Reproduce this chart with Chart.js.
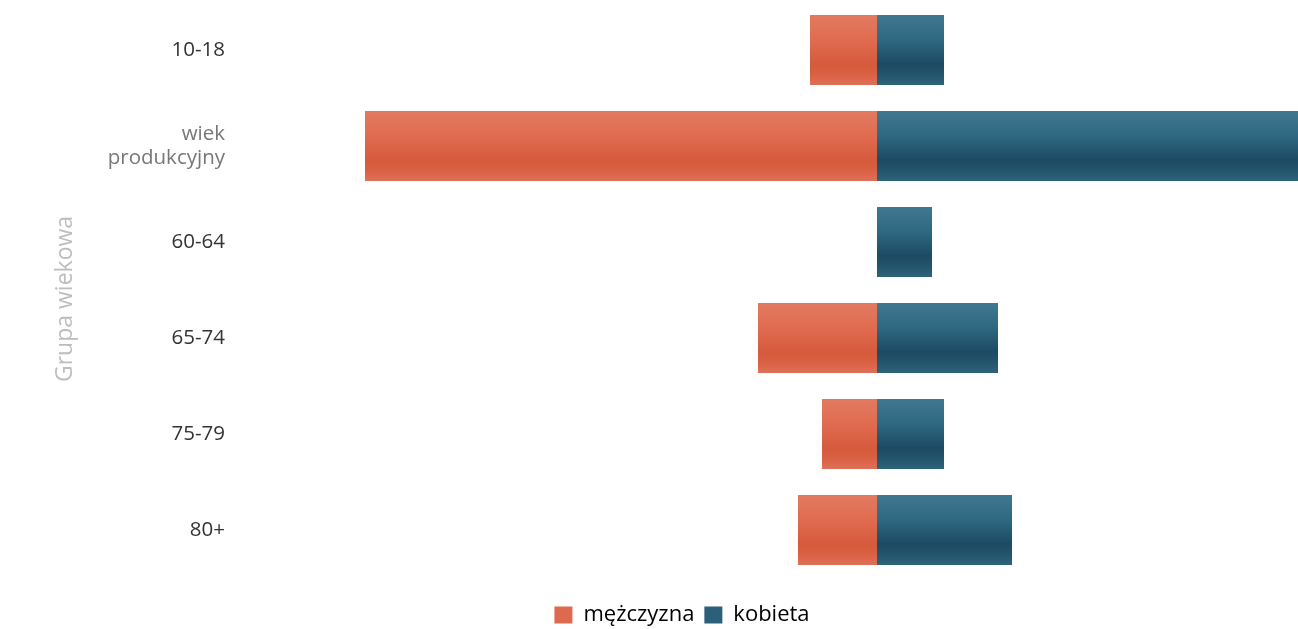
<!DOCTYPE html>
<html>
<head>
<meta charset="utf-8">
<script src="https://cdn.jsdelivr.net/npm/chart.js@4.4.1/dist/chart.umd.min.js"></script>
<style>
html,body{margin:0;padding:0;background:#fff;}
#wrap{width:1298px;height:629px;position:relative;}
</style>
</head>
<body>
<div id="wrap"><canvas id="c"></canvas></div>
<script>
const categories = ['10-18', ['wiek', 'produkcyjny'], '60-64', '65-74', '75-79', '80+'];
const menValues = [-67, -512, 0, -119, -55, -79];
const womenValues = [67, 600, 55, 121, 67, 135];
const seriesNames = ['mężczyzna', 'kobieta'];
const xMin = -637, xMax = 421;

function grad(stops, solid) {
  return function (ctx) {
    const chart = ctx.chart;
    const ys = chart.scales && chart.scales.y;
    if (!ys || !chart.chartArea || ctx.type !== 'data') return solid;
    const yc = ys.getPixelForValue(ctx.dataIndex);
    const h = 35;
    const g = chart.ctx.createLinearGradient(0, yc - h, 0, yc + h);
    stops.forEach(s => g.addColorStop(s[0], s[1]));
    return g;
  };
}
const redStops = [[0, '#E27A60'], [0.35, '#E06C50'], [0.7, '#D65A3C'], [0.85, '#DA6044'], [1, '#E07058']];
const blueStops = [[0, '#40788F'], [0.35, '#2F6882'], [0.7, '#1C4A62'], [0.85, '#24556E'], [1, '#2E627B']];

new Chart(document.getElementById('c'), {
  type: 'bar',
  data: {
    labels: categories,
    datasets: [
      { label: seriesNames[0], data: menValues, backgroundColor: grad(redStops, '#DD6A4E'), borderWidth: 0 },
      { label: seriesNames[1], data: womenValues, backgroundColor: grad(blueStops, '#2B5F7A'), borderWidth: 0 }
    ]
  },
  options: {
    indexAxis: 'y',
    responsive: true,
    maintainAspectRatio: false,
    animation: false,
    layout: { padding: { left: 66, right: 0, top: 2, bottom: -7 } },
    datasets: { bar: { barPercentage: 0.8, categoryPercentage: 0.91 } },
    scales: {
      x: {
        stacked: true, min: xMin, max: xMax,
        grid: { display: false, drawTicks: false },
        border: { display: false },
        ticks: { display: false },
        afterFit: (s) => { s.height = 16; s.paddingLeft = 0; s.paddingRight = 0; }
      },
      y: {
        stacked: true,
        grid: { display: false, drawTicks: false },
        border: { display: false },
        ticks: {
          padding: 15,
          font: { family: 'Open Sans', size: 20.5 },
          color: (c) => c.index === 1 ? '#777777' : '#333333',
          autoSkip: false
        },
        title: {
          display: true, text: 'Grupa wiekowa   ', color: '#BDBDBD',
          font: { family: 'Open Sans', size: 23 }, padding: { top: -14, bottom: 0 }
        },
        afterFit: (s) => { s.width = 174; s.paddingTop = 0; s.paddingBottom = 0; }
      }
    },
    plugins: {
      legend: {
        position: 'bottom',
        labels: {
          font: { family: 'Open Sans', size: 22 }, color: '#333333',
          boxWidth: 18, boxHeight: 17, padding: 10,
          generateLabels: (chart) => seriesNames.map((n, i) => ({
            text: n, fillStyle: i === 0 ? '#DD6A4E' : '#2B5F7A', strokeStyle: 'rgba(0,0,0,0)', lineWidth: 0, datasetIndex: i
          }))
        }
      },
      tooltip: { enabled: false }
    }
  }
});
</script>
</body>
</html>
